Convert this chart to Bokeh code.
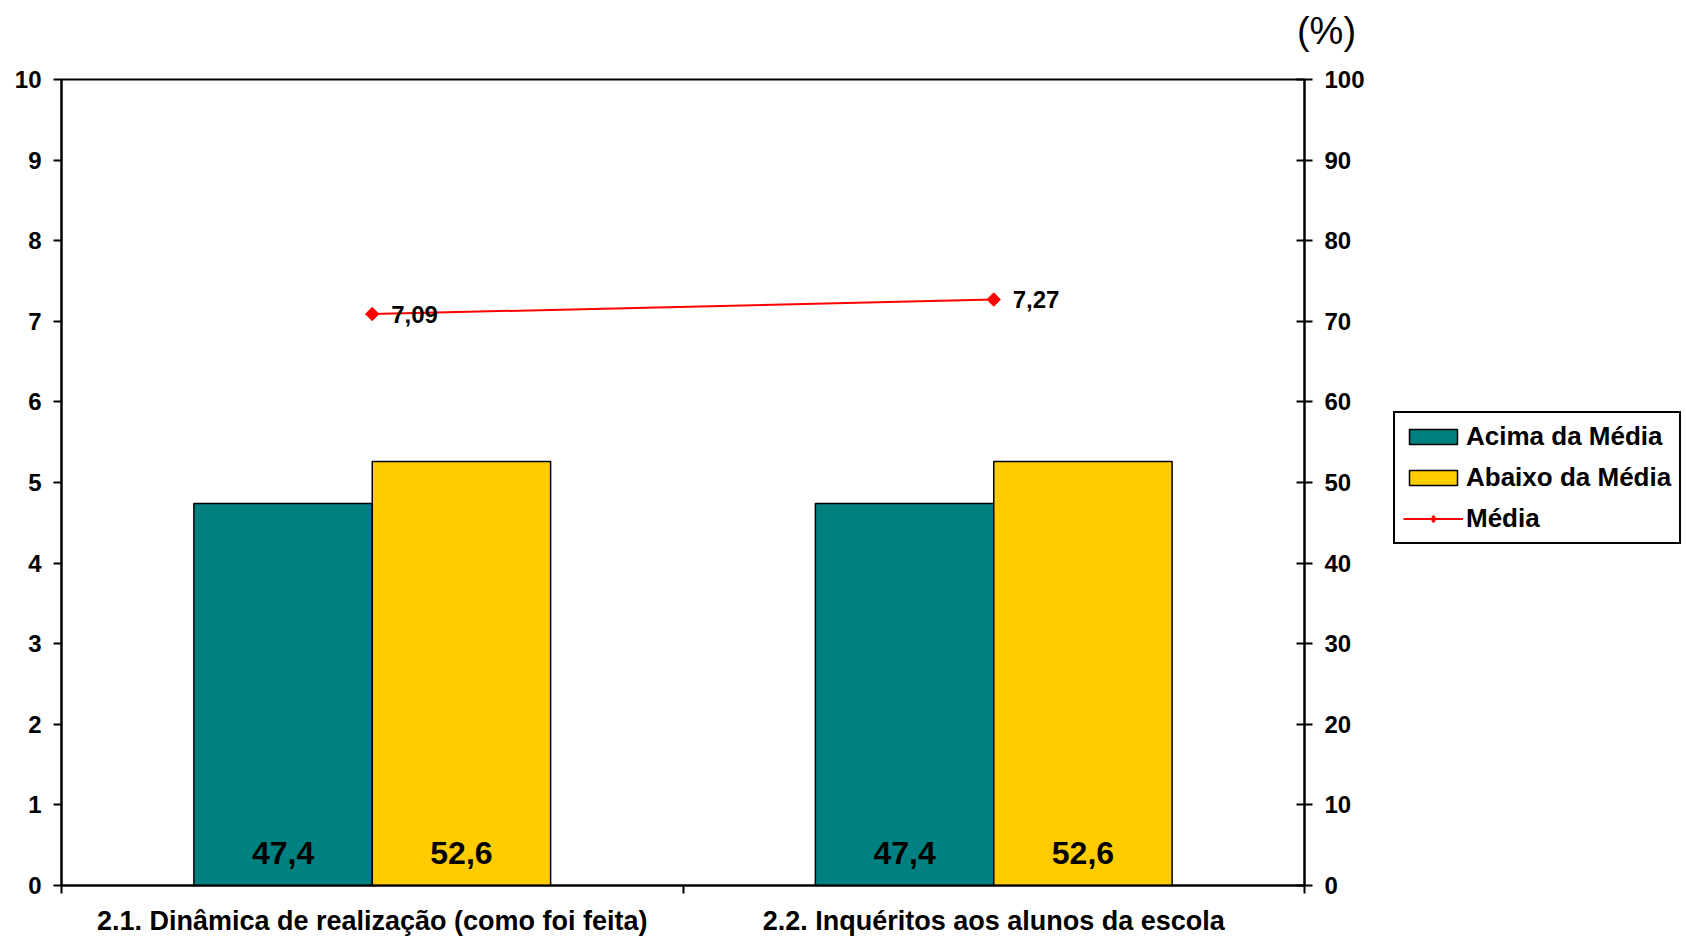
import numpy as np
from bokeh.plotting import figure
from bokeh.layouts import row
from bokeh.models import (Range1d, LinearAxis, FixedTicker, ColumnDataSource,
                          LabelSet, Label, Legend, LegendItem)
from bokeh.core.properties import value
from bokeh.embed import file_html
from bokeh.resources import INLINE

# ---------------- data ----------------
categories = ["2.1. Dinâmica de realização (como foi feita)",
              "2.2. Inquéritos aos alunos da escola"]
acima = [47.4, 47.4]          # % (right axis)
abaixo = [52.6, 52.6]         # % (right axis)
media = [7.09, 7.27]          # score (left axis)
acima_labels = ["47,4", "47,4"]
abaixo_labels = ["52,6", "52,6"]
media_labels = ["7,09", "7,27"]
left_ticks = list(range(0, 11))
right_ticks = list(range(0, 101, 10))
series_names = ["Acima da Média", "Abaixo da Média", "Média"]

# ---------------- style ----------------
TEAL = "#008080"
YELLOW = "#FFCC00"
RED = "#FF0000"
FONT = "Liberation Sans"

n = len(categories)
centers = [i + 0.5 for i in range(n)]
bounds = list(range(n + 1))
bar_w = 0.287
x_acima = [c - bar_w / 2 for c in centers]
x_abaixo = [c + bar_w / 2 for c in centers]

MAIN_W = 1392
p = figure(width=MAIN_W, height=939, x_range=Range1d(0, n), y_range=Range1d(0, 10),
           output_backend="svg", toolbar_location=None,
           x_axis_location=None, y_axis_location=None,
           min_border_left=61, min_border_right=MAIN_W - 1304, min_border_top=79,
           min_border_bottom=54)
p.extra_y_ranges = {"pct": Range1d(0, 100)}
p.grid.visible = False
p.outline_line_color = "black"
p.outline_line_width = 2
p.background_fill_color = "white"
p.border_fill_color = "white"

def style_axis(ax, size="24px"):
    ax.axis_line_width = 2
    ax.axis_line_color = "black"
    ax.major_tick_line_width = 2
    ax.major_tick_line_color = "black"
    ax.minor_tick_line_width = 2
    ax.minor_tick_line_color = "black"
    ax.major_label_text_font = FONT
    ax.major_label_text_font_size = size
    ax.major_label_text_font_style = "bold"
    ax.major_label_text_color = "black"

left = LinearAxis(ticker=FixedTicker(ticks=left_ticks))
style_axis(left)
left.major_tick_out = 8
left.major_tick_in = 0
left.minor_tick_out = 0
left.minor_tick_in = 0
left.major_label_standoff = 12
p.add_layout(left, "left")

right = LinearAxis(y_range_name="pct", ticker=FixedTicker(ticks=right_ticks))
style_axis(right)
right.major_tick_out = 8
right.major_tick_in = 8
right.minor_tick_out = 0
right.minor_tick_in = 0
right.major_label_standoff = 12
p.add_layout(right, "right")

bottom = LinearAxis(ticker=FixedTicker(ticks=centers, minor_ticks=bounds),
                    major_label_overrides={c: cat for c, cat in zip(centers, categories)})
style_axis(bottom, size="27px")
bottom.major_tick_out = 0
bottom.major_tick_in = 0
bottom.minor_tick_out = 8
bottom.minor_tick_in = 0
bottom.major_label_standoff = 12
p.add_layout(bottom, "below")

src_a = ColumnDataSource(dict(x=x_acima, top=acima, base=[0] * n, lab=acima_labels))
src_b = ColumnDataSource(dict(x=x_abaixo, top=abaixo, base=[0] * n, lab=abaixo_labels))
src_m = ColumnDataSource(dict(x=centers, y=media, lab=media_labels))

bar_style = dict(line_color="black", line_width=1.5)
r_a = p.vbar(x="x", top="top", bottom="base", width=bar_w, source=src_a, y_range_name="pct",
             fill_color=TEAL, **bar_style)
r_b = p.vbar(x="x", top="top", bottom="base", width=bar_w, source=src_b, y_range_name="pct",
             fill_color=YELLOW, **bar_style)
r_l = p.line(x="x", y="y", source=src_m, line_color=RED, line_width=2)
r_p = p.scatter(x="x", y="y", source=src_m, marker="square", angle=np.pi / 4, size=9.5,
                fill_color=RED, line_color=RED)

for s in (src_a, src_b):
    p.add_layout(LabelSet(x="x", y="base", text="lab", source=s, y_range_name="pct",
                          y_offset=33, text_align="center", text_baseline="middle",
                          text_font=value(FONT), text_font_size=value("32px"),
                          text_font_style=value("bold"), text_color="black"))

p.add_layout(LabelSet(x="x", y="y", text="lab", source=src_m, x_offset=19,
                      text_align="left", text_baseline="middle",
                      text_font=value(FONT), text_font_size=value("24px"),
                      text_font_style=value("bold"), text_color="black"))

pct_label = Label(x=n, y=right_ticks[-1], y_range_name="pct", text="(%)",
                  x_offset=22, y_offset=49, text_align="center", text_baseline="middle",
                  text_font=FONT, text_font_size="38px", text_color="black")
p.add_layout(pct_label, "above")

# ---------------- legend (separate panel to the right) ----------------
# The legend panel's frame is aligned with the main frame (top 79, bottom 885).
lg = figure(width=1686 - MAIN_W, height=939, x_range=Range1d(0, 1), y_range=Range1d(0, 1),
            output_backend="svg", toolbar_location=None,
            x_axis_location=None, y_axis_location=None, min_border=0)
lg.grid.visible = False
lg.outline_line_color = None
lg.background_fill_color = "white"
lg.border_fill_color = "white"
# hidden copies of the series, used only to draw the legend swatches
k_a = lg.vbar(x="x", top="top", bottom="base", width=bar_w, source=src_a,
              fill_color=TEAL, visible=False, **bar_style)
k_b = lg.vbar(x="x", top="top", bottom="base", width=bar_w, source=src_b,
              fill_color=YELLOW, visible=False, **bar_style)
k_l = lg.line(x="x", y="y", source=src_m, line_color=RED, line_width=2, visible=False)
k_p = lg.scatter(x="x", y="y", source=src_m, marker="diamond", size=15,
                 fill_color=RED, line_color=RED, visible=False)

legend = Legend(items=[LegendItem(label=series_names[0], renderers=[k_a]),
                       LegendItem(label=series_names[1], renderers=[k_b]),
                       LegendItem(label=series_names[2], renderers=[k_l, k_p])],
                location=(1, 885 - 544), orientation="vertical",
                label_text_font=FONT, label_text_font_size="26px", label_text_font_style="bold",
                label_text_color="black",
                glyph_width=60, glyph_height=19, label_height=28, label_standoff=3,
                spacing=10, padding=8, margin=0,
                border_line_color="black", border_line_width=2, border_line_alpha=1.0,
                background_fill_color="white", background_fill_alpha=1.0,
                inactive_fill_alpha=0.0)
lg.add_layout(legend)

layout = row(p, lg, spacing=0)
open("out.html", "w").write(file_html(layout, INLINE))
